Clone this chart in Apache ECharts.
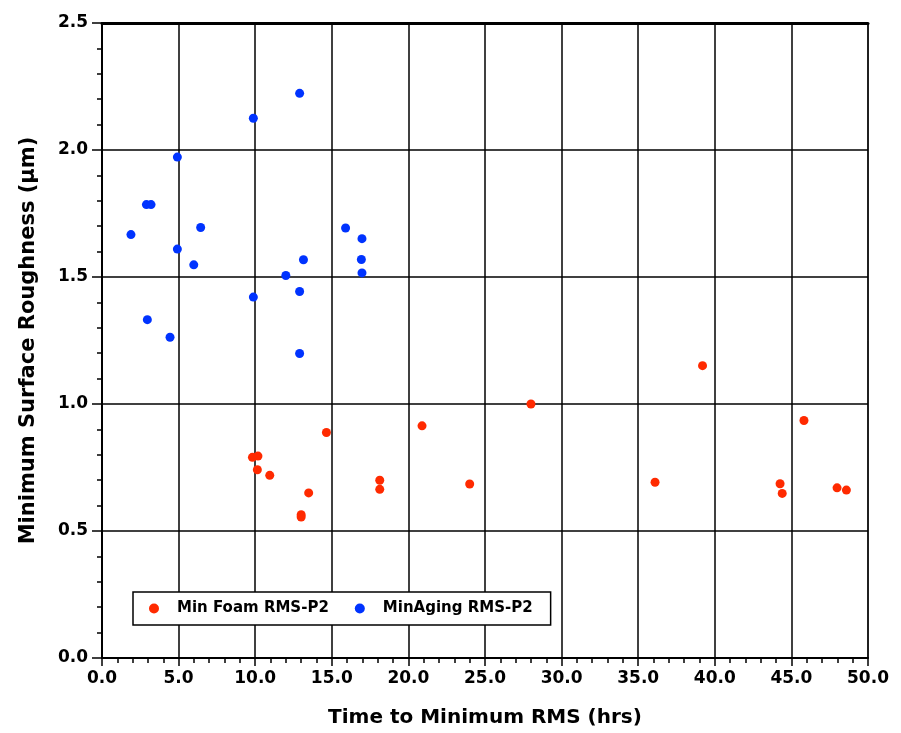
<!DOCTYPE html>
<html>
<head>
<meta charset="utf-8">
<script src="https://cdn.jsdelivr.net/npm/echarts@6/dist/echarts.min.js"></script>
<style>html,body{margin:0;padding:0;background:#fff}#c{width:901px;height:733px}</style>
</head>
<body>
<div id="c"></div>
<script>
const foamName = 'Min Foam RMS-P2';
const agingName = 'MinAging RMS-P2';
const foamX = [9.82, 10.18, 10.14, 10.95, 13.49, 13.0, 13.0, 14.65, 18.13, 18.13, 20.89, 24.0, 28.0, 36.1, 39.2, 44.26, 44.4, 45.82, 47.98, 48.59];
const foamY = [0.79, 0.795, 0.741, 0.719, 0.650, 0.564, 0.555, 0.888, 0.700, 0.664, 0.914, 0.685, 1.0, 0.692, 1.151, 0.686, 0.648, 0.935, 0.670, 0.661];
const agingX = [12.9, 9.88, 4.92, 2.9, 3.2, 1.89, 6.44, 4.92, 5.99, 15.9, 13.15, 12.0, 12.9, 9.88, 2.96, 4.44, 12.9, 16.97, 16.93, 16.97];
const agingY = [2.223, 2.125, 1.972, 1.785, 1.785, 1.667, 1.695, 1.61, 1.548, 1.693, 1.568, 1.506, 1.443, 1.421, 1.332, 1.263, 1.199, 1.651, 1.569, 1.516];
const xTitle = 'Time to Minimum RMS (hrs)';
const yTitle = 'Minimum Surface Roughness (µm)';

const pairs = (xs, ys) => xs.map((x, i) => [x, ys[i]]);
const chart = echarts.init(document.getElementById('c'));
const tickFont = {fontFamily: 'DejaVu Sans', fontWeight: 'bold', fontSize: 17, color: '#000'};
chart.setOption({
  animation: false,
  backgroundColor: '#fff',
  grid: {left: 102, right: 33, top: 23, bottom: 72, show: true, borderColor: '#000', borderWidth: 1},
  legend: {
    left: 133, top: 592, orient: 'horizontal',
    backgroundColor: '#fff', borderColor: '#000', borderWidth: 1.5, borderRadius: 0,
    padding: [9, 18, 9, 16], itemWidth: 10, itemHeight: 10, itemGap: 26,
    textStyle: {fontFamily: 'DejaVu Sans', fontWeight: 'bold', fontSize: 15, color: '#000', padding: [0, 0, 0, 13]},
    data: [{name: foamName, icon: 'circle'}, {name: agingName, icon: 'circle'}]
  },
  xAxis: [{
    type: 'value', min: 0, max: 50, interval: 5, position: 'bottom',
    name: xTitle, nameLocation: 'middle', nameGap: 50,
    nameTextStyle: {fontFamily: 'DejaVu Sans', fontWeight: 'bold', fontSize: 20, color: '#000'},
    axisLine: {show: true, onZero: false, lineStyle: {color: '#000', width: 2}},
    axisTick: {show: true, length: 8, lineStyle: {color: '#000', width: 1.5}},
    minorTick: {show: true, splitNumber: 5, length: 5, lineStyle: {color: '#000', width: 1.5}},
    axisLabel: Object.assign({margin: 12, formatter: v => v.toFixed(1)}, tickFont),
    splitLine: {show: true, lineStyle: {color: '#000', width: 1.5}}
  }, {
    type: 'value', min: 0, max: 50, position: 'top',
    axisLine: {show: true, onZero: false, lineStyle: {color: '#000', width: 3}},
    axisTick: {show: false}, axisLabel: {show: false}, splitLine: {show: false}
  }],
  yAxis: {
    type: 'value', min: 0, max: 2.5, interval: 0.5,
    name: yTitle, nameLocation: 'middle', nameGap: 63,
    nameTextStyle: {fontFamily: 'DejaVu Sans', fontWeight: 'bold', fontSize: 21, color: '#000'},
    axisLine: {show: true, lineStyle: {color: '#000', width: 2}},
    axisTick: {show: true, length: 10, lineStyle: {color: '#000', width: 1.5}},
    minorTick: {show: true, splitNumber: 5, length: 5, lineStyle: {color: '#000', width: 1.5}},
    axisLabel: Object.assign({margin: 14, formatter: v => v.toFixed(1)}, tickFont),
    splitLine: {show: true, lineStyle: {color: '#000', width: 1.5}}
  },
  series: [
    {name: foamName, type: 'scatter', symbol: 'circle', symbolSize: 9, itemStyle: {color: '#ff2a00', opacity: 1}, data: pairs(foamX, foamY), z: 5},
    {name: agingName, type: 'scatter', symbol: 'circle', symbolSize: 9, itemStyle: {color: '#0033ff', opacity: 1}, data: pairs(agingX, agingY), z: 5}
  ]
});
</script>
</body>
</html>
